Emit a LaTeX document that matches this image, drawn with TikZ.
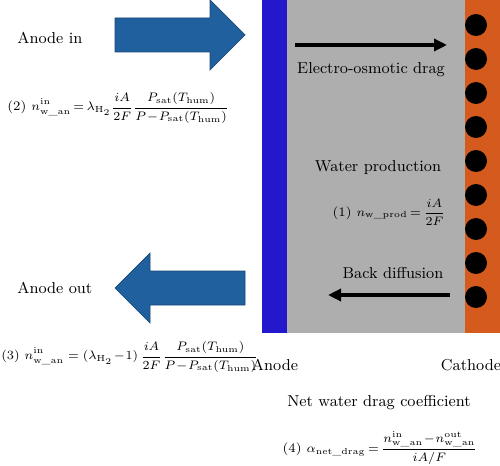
\documentclass[tikz,border=0pt]{standalone}
\usepackage{amsmath}
\usepackage{tikz}
\usepackage{xcolor}
\usetikzlibrary{arrows.meta}
\definecolor{anodeblue}{RGB}{36,24,204}
\definecolor{membgray}{RGB}{174,174,174}
\definecolor{cathorange}{RGB}{212,90,30}
\definecolor{flowblue}{RGB}{33,96,158}
\def\wan{\mathrm{w\_an}}
\def\psat{P_{\mathrm{sat}}(T_{\mathrm{hum}})}
\def\eqfont{\fontsize{7.4}{9}\selectfont\thickmuskip=3mu\relax}

\begin{document}
\begin{tikzpicture}[x=0.02cm,y=-0.02cm,
	lbl/.style={font=\fontsize{9}{11}\selectfont, inner sep=0pt},
	eqn/.style={font=\eqfont, inner sep=0pt},
	flow/.style={draw=flowblue!75!black, fill=flowblue, line width=0.4pt},
	drag/.style={line width=2.6pt, -{Triangle[length=2.6mm,width=2.4mm]}}]
				\useasboundingbox (0,0) rectangle (500,466);
				% layers
				\fill[anodeblue]  (262,0) rectangle (287,333);
				\fill[membgray]   (287,0) rectangle (465,333);
				\fill[cathorange] (465,0) rectangle (500,333);
				\foreach \k in {0,...,8}
					\fill[black] (476,25+34*\k) circle (0.22cm);
				% flow arrows
				\draw[flow] (115,18) -- (210,18) -- (210,0) -- (245,35) -- (210,70) -- (210,52) -- (115,52) -- cycle;
				\draw[flow] (245,271) -- (150,271) -- (150,253) -- (115,288) -- (150,323) -- (150,305) -- (245,305) -- cycle;
				% labels
				\node[lbl, anchor=west] (anin) at (17,38) {Anode in};
				\node[eqn, anchor=west] (eqin) at (7,108) {(2) $\displaystyle n^{\mathrm{in}}_{\wan} = \lambda_{\mathrm{H}_2}\frac{iA}{2F}\frac{\psat}{P\!-\!\psat}$};
				\node[lbl, anchor=west] (anout) at (17,288) {Anode out};
				\node[eqn, font=\fontsize{7.2}{9}\selectfont, anchor=west] (eqout) at (1,357) {(3) $\displaystyle n^{\mathrm{in}}_{\wan} = (\lambda_{\mathrm{H}_2}\!-\!1)\,\frac{iA}{2F}\frac{\psat}{P\!-\!\psat}$};
				\node[lbl, anchor=base] (anode) at (275,370) {Anode};
				\node[lbl, anchor=base] (cathode) at (471,370) {Cathode};
				\node[lbl] (eod) at (371,70) {Electro-osmotic drag};
				\node[lbl] (wprod) at (378,168) {Water production};
				\node[eqn] (eqprod) at (389,212) {(1) $\displaystyle n_{\mathrm{w\_prod}} = \frac{iA}{2F}$};
				\node[lbl] (bdiff) at (393,273) {Back diffusion};
				\node[lbl] (net) at (379,403) {Net water drag coefficient};
				\node[eqn] (eqnet) at (380,448) {(4) $\displaystyle \alpha_{\mathrm{net\_drag}} = \frac{n^{\mathrm{in}}_{\wan}\!-\!n^{\mathrm{out}}_{\wan}}{iA/F}$};
				% water transport
				\coordinate (eod-s) at (295,45);
				\coordinate (eod-e) at (447,45);
				\coordinate (bd-s) at (450,295);
				\coordinate (bd-e) at (328,295);
				\draw[drag] (eod-s) -- (eod-e);
				\draw[drag] (bd-s) -- (bd-e);
\end{tikzpicture}
\end{document}
